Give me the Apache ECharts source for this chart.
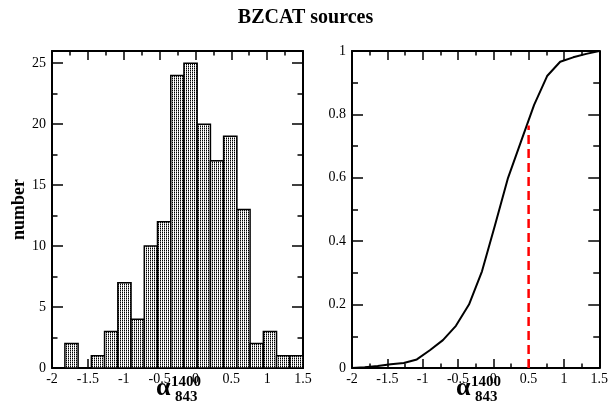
<!DOCTYPE html>
<html>
<head>
<meta charset="utf-8">
<script src="https://cdn.jsdelivr.net/npm/echarts@6/dist/echarts.min.js"></script>
<style>
    html, body { margin: 0; background: #fff; }
    #main { width: 611px; height: 409px; }
</style>
</head>
<body>
<div id="main"></div>
<script>
// histogram: bin edges and counts
const binEdges = [-1.82, -1.636, -1.451, -1.267, -1.082, -0.898, -0.713, -0.529, -0.344, -0.16,
    0.024, 0.209, 0.393, 0.578, 0.762, 0.947, 1.131, 1.316, 1.5];
const binCounts = [2, 0, 1, 3, 7, 4, 10, 12, 24, 25, 20, 17, 19, 13, 2, 3, 1, 1];

// cumulative curve
const cdfX = [-2, -1.82, -1.636, -1.451, -1.267, -1.082, -0.898, -0.713, -0.529, -0.344, -0.16,
    0.024, 0.209, 0.393, 0.578, 0.762, 0.947, 1.131, 1.316, 1.5];
const cdfY = [0, 0.002, 0.006, 0.012, 0.016, 0.027, 0.056, 0.088, 0.133, 0.2, 0.305,
    0.45, 0.6, 0.715, 0.83, 0.921, 0.966, 0.98, 0.991, 1.0];

// red dashed marker
const markerX = [0.5, 0.5];
const markerY = [0, 0.765];

const serif = '"Liberation Serif", "DejaVu Serif", serif';

// stipple fill for the bars (dotted columns)
const dots = document.createElement('canvas');
dots.width = 2;
dots.height = 2;
const g = dots.getContext('2d');
g.fillStyle = '#fff';
g.fillRect(0, 0, 2, 2);
g.fillStyle = '#000';
g.fillRect(0, 0, 1, 1);
g.fillStyle = '#8a8a8a';
g.fillRect(0, 1, 1, 1);
const stipple = { image: dots, repeat: 'repeat' };

function xAx(grid, pos, labels) {
    return {
        type: 'value', gridIndex: grid, position: pos,
        min: -2, max: 1.5, interval: 0.5,
        axisLine: { show: true, onZero: false, lineStyle: { color: '#000', width: 2 } },
        axisTick: { show: true, inside: true, length: 9, lineStyle: { color: '#000', width: 1.5 } },
        minorTick: { show: true, splitNumber: 2, length: 4.5, lineStyle: { color: '#000', width: 1.5 } },
        axisLabel: { show: labels, color: '#000', fontFamily: serif, fontSize: 14, margin: 4 },
        splitLine: { show: false }, minorSplitLine: { show: false }
    };
}

function yAx(grid, pos, max, interval, len, labels, line) {
    return {
        type: 'value', gridIndex: grid, position: pos,
        min: 0, max: max, interval: interval,
        axisLine: { show: line, onZero: false, lineStyle: { color: '#000', width: 2 } },
        axisTick: { show: true, inside: true, length: len, lineStyle: { color: '#000', width: 1.5 } },
        axisLabel: {
            show: labels, color: '#000', fontFamily: serif, fontSize: 14, margin: 6,
            formatter: v => (v > max - 1e-9 && max === 26) ? '' : String(v)
        },
        splitLine: { show: false }
    };
}

const yRight = (grid, pos, labels) => Object.assign(yAx(grid, pos, 1, 0.2, 11, labels, true), {
    minorTick: { show: true, splitNumber: 2, length: 6, lineStyle: { color: '#000', width: 1.5 } }
});

let yLeftMain = yAx(0, 'left', 26, 5, 11, true, true);
yLeftMain.name = 'number';
yLeftMain.nameLocation = 'middle';
yLeftMain.nameRotate = 90;
yLeftMain.nameGap = 24;
yLeftMain.nameTextStyle = { color: '#000', fontFamily: serif, fontWeight: 'bold', fontSize: 18 };

const option = {
    animation: false,
    backgroundColor: '#fff',
    title: {
        text: 'BZCAT sources', left: 'center', top: 3,
        textStyle: { color: '#000', fontFamily: serif, fontWeight: 'bold', fontSize: 20 }
    },
    grid: [
        { left: 52, right: 308, top: 51, bottom: 41 },
        { left: 352, right: 8, top: 51, bottom: 41 }
    ],
    xAxis: [
        xAx(0, 'bottom', true),
        xAx(0, 'top', false),
        xAx(1, 'bottom', true),
        xAx(1, 'top', false)
    ],
    yAxis: [
        yLeftMain,
        yAx(0, 'left', 26, 2.5, 5.5, false, false),
        yAx(0, 'right', 26, 5, 11, false, true),
        yAx(0, 'right', 26, 2.5, 5.5, false, false),
        yRight(1, 'left', true),
        yRight(1, 'right', false)
    ],
    series: [
        {
            type: 'custom', xAxisIndex: 0, yAxisIndex: 0,
            encode: { x: [0, 1], y: 2 },
            data: binCounts.map((c, i) => [binEdges[i], binEdges[i + 1], c]),
            renderItem: (params, api) => {
                const p0 = api.coord([api.value(0), api.value(2)]);
                const p1 = api.coord([api.value(1), 0]);
                return {
                    type: 'rect',
                    shape: { x: p0[0], y: p0[1], width: p1[0] - p0[0], height: p1[1] - p0[1] },
                    style: { fill: stipple, stroke: '#000', lineWidth: 1.5 }
                };
            }
        },
        {
            type: 'line', xAxisIndex: 2, yAxisIndex: 4,
            data: cdfX.map((x, i) => [x, cdfY[i]]),
            symbol: 'none',
            lineStyle: { color: '#000', width: 2 }
        },
        {
            type: 'line', xAxisIndex: 2, yAxisIndex: 4,
            data: markerX.map((x, i) => [x, markerY[i]]),
            symbol: 'none',
            lineStyle: { color: '#ff0000', width: 2.5, type: [9, 5] }
        }
    ],
    graphic: [0, 300].flatMap(dx => [
        { type: 'text', x: 156 + dx, y: 388, style: { text: 'α', font: 'bold 26px ' + serif, fill: '#000', verticalAlign: 'middle' } },
        { type: 'text', x: 171 + dx, y: 382, style: { text: '1400', font: 'bold 15px ' + serif, fill: '#000', verticalAlign: 'middle' } },
        { type: 'text', x: 175 + dx, y: 397, style: { text: '843', font: 'bold 15px ' + serif, fill: '#000', verticalAlign: 'middle' } }
    ])
};

echarts.init(document.getElementById('main')).setOption(option);
</script>
</body>
</html>
